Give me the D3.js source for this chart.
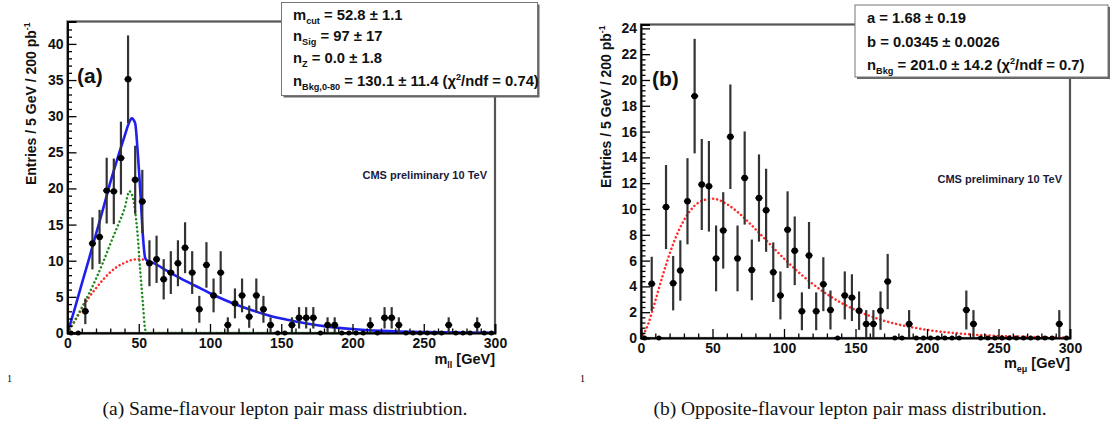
<!DOCTYPE html>
<html><head><meta charset="utf-8">
<script src="https://cdn.jsdelivr.net/npm/d3@7"></script>
<style>
body{margin:0;background:#fff}
svg{display:block}
text{font-family:"Liberation Sans",Arial,Helvetica,sans-serif}
</style>
</head><body>
<svg id="c" width="1113" height="430"></svg>
<script>
// ---------------- DATA ----------------
const binCenters = [2.5,7.5,12.5,17.5,22.5,27.5,32.5,37.5,42.5,47.5,52.5,57.5,62.5,67.5,72.5,77.5,82.5,87.5,92.5,97.5,
  102.5,107.5,112.5,117.5,122.5,127.5,132.5,137.5,142.5,147.5,152.5,157.5,162.5,167.5,172.5,177.5,182.5,187.5,192.5,197.5,
  202.5,207.5,212.5,217.5,222.5,227.5,232.5,237.5,242.5,247.5,252.5,257.5,262.5,267.5,272.5,277.5,282.5,287.5,292.5,297.5];
const binHalfWidth = 2.5;

// (a) same-flavour
const sfValues = [0,0,3.0,12.4,13.3,19.7,19.6,24.2,35.1,21.2,18.2,9.65,10.2,7.43,8.36,9.65,11.8,8.36,3.28,9.42,
  5.2,8.36,1.1,4.1,5.2,2.26,5.2,3.28,1.1,0,0,1.1,2.1,2.1,2.1,0,1.1,1.1,0,0,
  0,0,1.1,0,2.1,2.1,1.1,0,0,0,0,0,0,1.1,0,0,0,1.1,0,0];
const sfErrors = [0,0,1.77,3.6,3.74,4.55,4.54,5.04,6.07,4.72,4.37,3.18,3.27,2.79,2.96,3.18,3.52,2.96,1.86,3.15,
  2.34,2.96,1.07,2.07,2.34,1.54,2.34,1.86,1.07,0,0,1.07,1.48,1.48,1.48,0,1.07,1.07,0,0,
  0,0,1.07,0,1.48,1.48,1.07,0,0,0,0,0,0,1.07,0,0,0,1.07,0,0];
const sfTotalX = [0,5,10,15,20,25,30,35,40,43,45,47.5,49,50.5,51.7,52.9,54.5,56,60,70,80,90,100,110,120,130,140,150,160,170,180,200,220,250,280,300];
const sfTotalY = [0,3.3,6.8,10.2,13.7,17.2,20.8,24.1,27.2,29.0,29.7,29.0,25.8,21.5,17.5,13.5,10.4,10.0,9.7,8.6,7.5,6.5,5.5,4.6,3.8,3.1,2.5,2.0,1.6,1.25,0.95,0.55,0.3,0.12,0.05,0.03];
const sfSignalX = [0,5,10,15,20,25,30,35,40,43.5,45.5,47.5,49.1,51,52.9,54.5,55.5,60,300];
const sfSignalY = [0,1.7,3.5,5.4,7.5,9.8,12.3,14.7,17.2,19.6,19.0,16.8,13.8,8.7,4.1,0.5,0,0,0];
const sfBkgX = [0,5,10,15,20,25,30,35,40,45,50,55];
const sfBkgY = [0,1.6,3.3,4.9,6.2,7.4,8.4,9.2,9.7,10.1,10.2,10.1];

// (b) opposite-flavour
const ofValues = [0,4.2,0,10.15,4.25,5.23,10.6,18.75,11.9,11.76,6.17,8.34,15.6,6.17,12.4,5.28,10.85,9.9,5.1,3.3,
  8.4,6.76,2.07,6.4,2.07,4.17,2.17,0,3.3,3.13,2.12,1.09,1.09,2.12,4.38,0,0,1.09,0,0,
  0,0,0,0,0,2.17,1.09,0,0,0,0,0,0,0,0,0,0,0,1.09,0];
const ofErrors = [0,2.1,0,3.26,2.11,2.34,3.34,4.44,3.53,3.51,2.55,2.96,4.05,2.55,3.61,2.35,3.38,3.22,2.31,1.86,
  2.97,2.66,1.47,2.59,1.47,2.09,1.51,0,1.86,1.81,1.49,1.07,1.07,1.49,2.14,0,0,1.07,0,0,
  0,0,0,0,0,1.51,1.07,0,0,0,0,0,0,0,0,0,0,0,1.07,0];
const ofBkgX = [0,5,7.5,10,15,20,25,30,35,40,50,60,70,80,90,100,110,120,130,140,150,160,170,180,200,220,240,260,280,300];
const ofBkgY = [0,1.07,1.93,2.87,4.78,6.52,7.98,9.12,9.95,10.48,10.8,10.38,9.53,8.44,7.29,6.16,5.12,4.20,3.40,2.73,2.17,1.71,1.34,1.05,0.63,0.37,0.21,0.12,0.065,0.035];

// ticks
const xTicks = [0,50,100,150,200,250,300];
const xMinorTicks = [10,20,30,40,60,70,80,90,110,120,130,140,160,170,180,190,210,220,230,240,260,270,280,290];
const sfYTicks = [0,5,10,15,20,25,30,35,40];
const ofYTicks = [0,2,4,6,8,10,12,14,16,18,20,22,24];

// texts
const sfLegend = [
  [{t:"m"},{t:"cut",sub:1},{t:" =  52.8 ± 1.1"}],
  [{t:"n"},{t:"Sig",sub:1},{t:" =  97 ± 17"}],
  [{t:"n"},{t:"Z",sub:1},{t:" =  0.0 ± 1.8"}],
  [{t:"n"},{t:"Bkg,0-80",sub:1},{t:" = 130.1 ± 11.4 (χ"},{t:"2",sup:1},{t:"/ndf = 0.74)"}]
];
const ofLegend = [
  [{t:"a =  1.68 ± 0.19"}],
  [{t:"b =  0.0345 ± 0.0026"}],
  [{t:"n"},{t:"Bkg",sub:1},{t:" = 201.0 ± 14.2  (χ"},{t:"2",sup:1},{t:"/ndf = 0.7)"}]
];

// ---------------- DRAW ----------------
const svg = d3.select("#c");
const defs = svg.append("defs");

function rich(g, x, y, parts, size, anchor) {
  const t = g.append("text").attr("x", x).attr("y", y)
    .style("font-size", size + "px").style("font-weight", "bold").attr("fill", "#111");
  if (anchor) t.attr("text-anchor", anchor);
  let shift = 0;
  parts.forEach(p => {
    const target = p.sub ? size * 0.3 : p.sup ? -size * 0.4 : 0;
    const ts = t.append("tspan").attr("dy", target - shift).text(p.t);
    if (p.sub || p.sup) ts.style("font-size", (size * 0.62) + "px");
    shift = target;
  });
  return t;
}

function panel(p) {
  const g = svg.append("g");
  const x = d3.scaleLinear().domain([0, 300]).range([p.x0, p.x1]);
  const y = d3.scaleLinear().domain([0, p.yMax]).range([p.yBot, p.yTop]);

  g.append("rect").attr("x", p.x0).attr("y", p.yTop).attr("width", p.x1 - p.x0).attr("height", p.yBot - p.yTop)
    .attr("fill", "none").attr("stroke", "#555").attr("stroke-width", 2.2);

  defs.append("clipPath").attr("id", "clip" + p.id).append("rect")
    .attr("x", p.x0).attr("y", p.yTop).attr("width", p.x1 - p.x0).attr("height", p.yBot - p.yTop);

  const line = d3.line().x(d => x(d[0])).y(d => y(d[1])).curve(d3.curveMonotoneX);
  const cg = g.append("g").attr("clip-path", "url(#clip" + p.id + ")");
  p.curves.forEach(c => {
    const path = cg.append("path").datum(d3.zip(c.x, c.y)).attr("d", line)
      .attr("fill", "none").attr("stroke", c.color).attr("stroke-width", c.width);
    if (c.dotted) path.attr("stroke-dasharray", "0.1,4").attr("stroke-linecap", "round");
  });

  const dg = g.append("g");
  binCenters.forEach((c, i) => {
    const v = p.values[i], e = p.errors[i];
    if (e > 0) {
      dg.append("line").attr("x1", x(c)).attr("x2", x(c)).attr("y1", y(v - e)).attr("y2", y(v + e))
        .attr("stroke", "#333").attr("stroke-width", 2.2);
    }
    dg.append("line").attr("x1", x(c - binHalfWidth)).attr("x2", x(c + binHalfWidth)).attr("y1", y(v)).attr("y2", y(v))
      .attr("stroke", "#000").attr("stroke-width", 1.8);
    dg.append("circle").attr("cx", x(c)).attr("cy", y(v)).attr("r", v > 0 ? 3.2 : 2.5).attr("fill", "#000");
  });

  g.append("g").attr("transform", `translate(${p.x0},0)`)
    .call(d3.axisLeft(y).tickValues(p.yTicks).tickSize(-9).tickPadding(4).tickFormat(d3.format("d")));
  g.append("g").attr("transform", `translate(${p.x0},0)`)
    .call(d3.axisLeft(y).tickValues(p.yMinor).tickSize(-4.5).tickFormat(""))
    .select(".domain").remove();
  g.append("g").attr("transform", `translate(0,${p.yBot})`)
    .call(d3.axisBottom(x).tickValues(xTicks).tickSize(-9).tickPadding(5).tickFormat(d3.format("d")));
  g.append("g").attr("transform", `translate(0,${p.yBot})`)
    .call(d3.axisBottom(x).tickValues(xMinorTicks).tickSize(-4.5).tickFormat(""))
    .select(".domain").remove();
  g.selectAll(".domain").attr("stroke", "#000").attr("stroke-width", 1.8);
  g.selectAll(".tick line").attr("stroke", "#000").attr("stroke-width", 1.3);
  g.selectAll(".tick text").style("font-size", "14px").style("font-weight", "bold").attr("fill", "#111");

  const b = p.box;
  g.append("rect").attr("x", b.x + 2).attr("y", b.y + 2).attr("width", b.w).attr("height", b.h).attr("fill", "#666");
  g.append("rect").attr("x", b.x).attr("y", b.y).attr("width", b.w).attr("height", b.h)
    .attr("fill", "#fff").attr("stroke", "#777").attr("stroke-width", 1);
  p.legend.forEach((parts, i) => rich(g, b.tx, b.ty[i], parts, 14.8));

  g.append("text").attr("x", p.tag.x).attr("y", p.tag.y).text(p.tag.t)
    .style("font-size", "21px").style("font-weight", "bold").attr("fill", "#111");
  g.append("text").attr("x", p.cms.x).attr("y", p.cms.y).attr("text-anchor", "end").text("CMS preliminary 10 TeV")
    .style("font-size", "11px").style("font-weight", "bold").attr("fill", "#1a1a3a");
  rich(g, p.x1, p.xTitleY, p.xTitle, 14.5, "end");
  const yt = g.append("g").attr("transform", `translate(${p.yTitleX},${p.yTop + 1}) rotate(-90)`);
  rich(yt, 0, 0, [{t:"Entries / 5 GeV / 200 pb"},{t:"-1",sup:1}], 14, "end");

  g.append("text").attr("x", p.foot.x).attr("y", p.foot.y).text("1")
    .style("font-family", "'Liberation Serif','Times New Roman',serif").style("font-size", "10px");
  g.append("text").attr("x", p.cap.x).attr("y", p.cap.y).attr("text-anchor", "middle").text(p.cap.t)
    .style("font-family", "'Liberation Serif','Times New Roman',serif").style("font-size", "19.5px").attr("fill", "#111");
}

panel({
  id: "a", x0: 67.5, x1: 495, yTop: 21.5, yBot: 333, yMax: 43.1,
  yTicks: sfYTicks, yMinor: d3.range(1, 43, 1).filter(v => v % 5 !== 0),
  values: sfValues, errors: sfErrors,
  curves: [
    {x: sfBkgX, y: sfBkgY, color: "#ff2a2a", width: 2.5, dotted: true},
    {x: sfSignalX, y: sfSignalY, color: "#1e8a1e", width: 2.5, dotted: true},
    {x: sfTotalX, y: sfTotalY, color: "#1f1fee", width: 2.6, dotted: false}
  ],
  box: {x: 281.5, y: 2.5, w: 256, h: 93, tx: 293, ty: [20, 41, 63, 86]},
  legend: sfLegend,
  tag: {x: 77, y: 83, t: "(a)"},
  cms: {x: 487, y: 179},
  xTitle: [{t:"m"},{t:"ll",sub:1},{t:" [GeV]"}], xTitleY: 364,
  yTitleX: 36,
  foot: {x: 7, y: 382},
  cap: {x: 285, y: 415, t: "(a)  Same-flavour lepton pair mass distriubtion."}
});

panel({
  id: "b", x0: 641, x1: 1070, yTop: 24.5, yBot: 338, yMax: 24.3,
  yTicks: ofYTicks, yMinor: d3.range(0.4, 24.3, 0.4).filter(v => Math.abs(v / 2 - Math.round(v / 2)) > 0.01),
  values: ofValues, errors: ofErrors,
  curves: [
    {x: ofBkgX, y: ofBkgY, color: "#ff2a2a", width: 2.5, dotted: true}
  ],
  box: {x: 855, y: 5, w: 253, h: 72, tx: 867, ty: [23, 47, 70]},
  legend: ofLegend,
  tag: {x: 652, y: 86, t: "(b)"},
  cms: {x: 1062, y: 183},
  xTitle: [{t:"m"},{t:"eμ",sub:1},{t:" [GeV]"}], xTitleY: 368,
  yTitleX: 611,
  foot: {x: 580, y: 382},
  cap: {x: 850, y: 415, t: "(b)  Opposite-flavour lepton pair mass distribution."}
});
</script>
</body></html>
